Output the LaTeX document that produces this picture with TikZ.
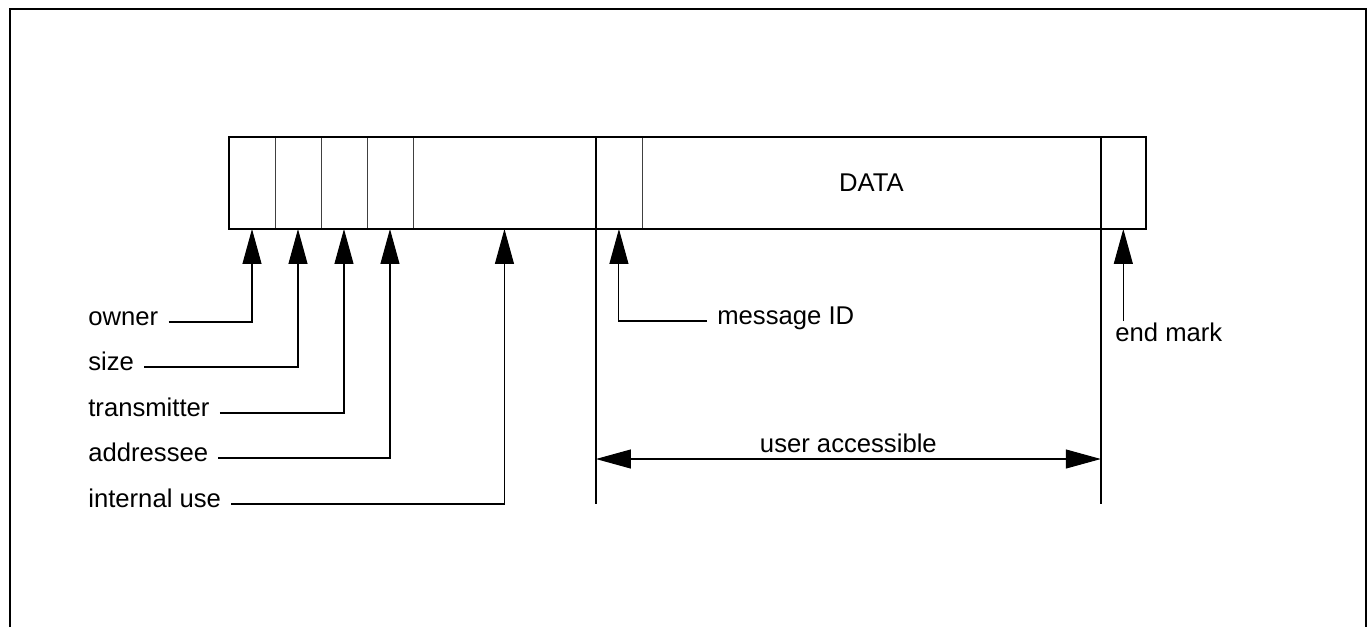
\documentclass[tikz,border=0pt]{standalone}
\usepackage{fontspec}
\setmainfont{Liberation Sans}
\usetikzlibrary{positioning,fit,calc,arrows.meta}

\begin{document}
\begin{tikzpicture}[
  x = 0.02cm,
  y = -0.02cm,
  every node/.style = {
    font = \fontsize{14.6}{17}\selectfont,
  },
  field/.style = {
    draw = black!75,
    rectangle,
    line width = 0.4pt,
    inner sep = 0pt,
    outer sep = 0pt,
    minimum width = 0.92cm,
    minimum height = 1.84cm,
  },
  tag/.style = {
    inner sep = 0.2cm,
    text height = 0.6em,
    text depth = 0.25em,
  },
  pointer/.style = {
    draw,
    line width = 0.6pt,
    -{Triangle[length=0.7cm,width=0.38cm]},
  },
  span/.style = {
    draw,
    line width = 0.6pt,
    {Triangle[length=0.7cm,width=0.38cm]}-{Triangle[length=0.7cm,width=0.38cm]},
  },
  bound/.style = {
    draw,
    line width = 0.8pt,
  },
]

  \useasboundingbox (0,0) rectangle (1372,627);
  \draw[line width=1.2pt] (10,627) -- (10,9) -- (1366,9) -- (1366,627);

  % message fields
  \node[field] (f0) at (252,183) {};
  \node[field] (f1) [right=0cm of f0] {};
  \node[field] (f2) [right=0cm of f1] {};
  \node[field] (f3) [right=0cm of f2] {};
  \node[field,minimum width=3.66cm] (f4) [right=0cm of f3] {};
  \node[field] (f5) [right=0cm of f4] {};
  \node[field,minimum width=9.18cm,text=black] (f6) [right=0cm of f5] {DATA};
  \node[field,minimum width=0.90cm] (f7) [right=0cm of f6] {};
  \node[draw,line width=1.2pt,inner sep=0pt,outer sep=0pt,fit=(f0) (f7)] (msg) {};

  % user accessible range
  \coordinate (base) at (0,504);
  \coordinate (dimy) at (0,459);
  \path[bound] (f5.north west) -- (f5.west |- base);
  \path[bound] (f7.north west) -- (f7.west |- base);
  \path[span] (f5.west |- dimy) -- node[above] {user accessible} (f7.west |- dimy);

  % labels
  \node[tag,anchor=west] (owner) at (78,322) {owner};
  \node[tag,anchor=west] (size) at (78,367) {size};
  \node[tag,anchor=west] (transmitter) at (78,413) {transmitter};
  \node[tag,anchor=west] (addressee) at (78,458) {addressee};
  \node[tag,anchor=west] (internal) at (78,504) {internal use};
  \node[tag,anchor=west] (msgid) at (707,321) {message ID};
  \node[tag,anchor=north west] (endmark) at (1105,321) {end mark};

  \path[pointer] (owner.east) -| (f0.south);
  \path[pointer] (size.east) -| (f1.south);
  \path[pointer] (transmitter.east) -| (f2.south);
  \path[pointer] (addressee.east) -| (f3.south);
  \path[pointer] (internal.east) -| (f4.south);
  \path[pointer] (msgid.west) -| (f5.south);
  \path[pointer] (endmark.north -| f7.south) -- (f7.south);

\end{tikzpicture}
\end{document}
